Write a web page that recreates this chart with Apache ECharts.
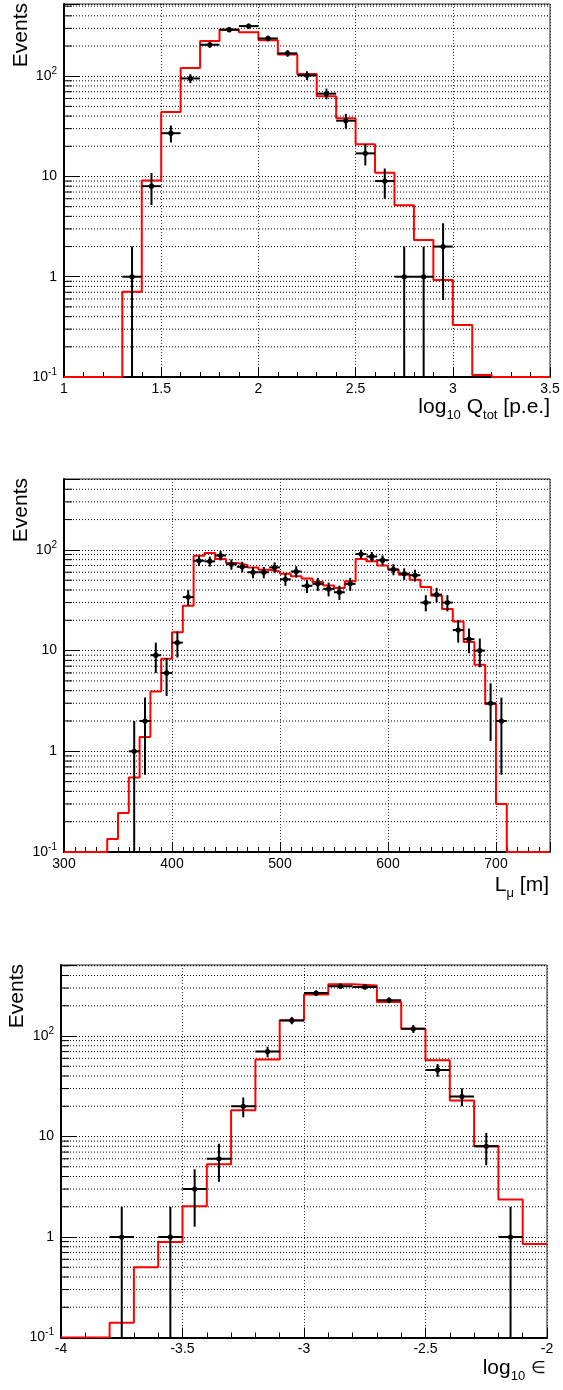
<!DOCTYPE html>
<html>
<head>
<meta charset="utf-8">
<script src="https://cdn.jsdelivr.net/npm/echarts@6/dist/echarts.min.js"></script>
<style>
  html, body { margin: 0; padding: 0; background: #fff; }
  #chart { width: 563px; height: 1390px; }
</style>
</head>
<body>
<div id="chart"></div>
<script>
// ---- panel 1: log10 Qtot ----
var qEdges = [1.0, 1.1, 1.2, 1.3, 1.4, 1.5, 1.6, 1.7, 1.8, 1.9, 2.0, 2.1, 2.2, 2.3, 2.4, 2.5, 2.6, 2.7, 2.8, 2.9, 3.0, 3.1, 3.2, 3.3, 3.4, 3.5];
var qMc = [0, 0, 0, 0.71, 9.1, 44, 121, 224, 291, 275, 229, 165, 105, 63, 38, 20.9, 10.9, 5.15, 2.32, 0.93, 0.33, 0.105, 0, 0, 0];
var qX = [1.35, 1.45, 1.55, 1.65, 1.75, 1.85, 1.95, 2.05, 2.15, 2.25, 2.35, 2.45, 2.55, 2.65, 2.75, 2.85, 2.95];
var qN = [1, 8, 27, 95, 206, 291, 316, 238, 169, 102, 67, 36, 17, 9, 1, 1, 2];

// ---- panel 2: L_mu ----
var lEdges = [300, 310, 320, 330, 340, 350, 360, 370, 380, 390, 400, 410, 420, 430, 440, 450, 460, 470, 480, 490,
  500, 510, 520, 530, 540, 550, 560, 570, 580, 590, 600, 610, 620, 630, 640, 650, 660, 670, 680, 690,
  700, 710, 720, 730, 740, 750];
var lMc = [0, 0, 0, 0, 0.135, 0.244, 0.55, 1.39, 3.93, 8.3, 15.2, 27.9, 87.5, 93, 81, 74, 71, 67, 63.5, 61,
  58, 54.6, 52, 48, 44.4, 41.9, 48.7, 81.3, 77, 70, 63.6, 56.7, 50.6, 42.8, 35, 25.9, 19.5, 12.2, 7.25, 2.95,
  0.30, 0, 0, 0, 0];
var lX = [365, 375, 385, 395, 405, 415, 425, 435, 445, 455, 465, 475, 485, 495, 505, 515, 525, 535, 545, 555,
  565, 575, 585, 595, 605, 615, 625, 635, 645, 655, 665, 675, 685, 695, 705];
var lN = [1, 2, 9, 6, 12, 34, 78, 77, 88, 72, 68, 60, 60, 67, 51, 61, 44, 46, 41, 38,
  46, 91, 86, 79, 64, 58, 56, 30, 36, 30, 16, 13, 10, 3, 2];

// ---- panel 3: log10 epsilon ----
var eEdges = [-4.0, -3.9, -3.8, -3.7, -3.6, -3.5, -3.4, -3.3, -3.2, -3.1, -3.0, -2.9, -2.8, -2.7, -2.6, -2.5, -2.4, -2.3, -2.2, -2.1, -2.0];
var eMc = [0, 0, 0.14, 0.50, 0.89, 2.02, 5.3, 18.3, 58.3, 143.6, 259, 327, 318, 218, 118, 57.4, 22.8, 8.0, 2.36, 0.85];
var eX = [-3.75, -3.55, -3.45, -3.35, -3.25, -3.15, -3.05, -2.95, -2.85, -2.75, -2.65, -2.55, -2.45, -2.35, -2.25, -2.15];
var eN = [1, 1, 3, 6, 20, 70, 143, 268, 313, 308, 227, 118, 46, 25, 8, 1];

// minor log ticks (2..9 of every decade)
var yMinorTicks = [0.2, 0.3, 0.4, 0.5, 0.6, 0.7, 0.8, 0.9, 2, 3, 4, 5, 6, 7, 8, 9,
  20, 30, 40, 50, 60, 70, 80, 90, 200, 300, 400, 500];

var FONT = '"Liberation Sans", Arial, Helvetica, sans-serif';
var YMIN = 0.1;

var panels = [
  { edges: qEdges, mc: qMc, px: qX, pn: qN, xmin: 1, xmax: 3.5, major: 0.5, minor: 5, ymax: 525,
    grid: { left: 64, top: 4, width: 486, height: 373 } },
  { edges: lEdges, mc: lMc, px: lX, pn: lN, xmin: 300, xmax: 750, major: 100, minor: 10, ymax: 506,
    grid: { left: 64, top: 479, width: 486, height: 373 } },
  { edges: eEdges, mc: eMc, px: eX, pn: eN, xmin: -4, xmax: -2, major: 0.5, minor: 5, ymax: 509,
    grid: { left: 61, top: 965, width: 486, height: 372.5 } }
];

function logLabel(v) {
  var l = Math.log10(v);
  var e = Math.round(l);
  if (Math.abs(l - e) > 1e-6) return '';
  if (e === 0) return '{n|1}';
  if (e === 1) return '{n|10}';
  return '{b|10}{p|' + e + '}';
}

var grids = [], xAxes = [], yAxes = [], series = [];

panels.forEach(function (p, i) {
  grids.push({
    left: p.grid.left, top: p.grid.top, width: p.grid.width, height: p.grid.height,
    show: true, borderColor: '#222', borderWidth: 1, backgroundColor: '#fff',
    outerBoundsMode: 'none', containLabel: false
  });

  var xi = xAxes.length;
  var twoAxes = (p.xmax - p.xmin) % p.major !== 0;
  xAxes.push({
    type: 'value', gridIndex: i, min: p.xmin, max: p.xmax, interval: p.major,
    axisLine: { show: true, onZero: false, lineStyle: { color: '#000', width: 2 } },
    axisTick: { show: true, inside: true, length: 10, lineStyle: { color: '#000', width: 1 } },
    minorTick: { show: !twoAxes, splitNumber: p.minor, length: 5, lineStyle: { color: '#000', width: 1 } },
    splitLine: { show: true, lineStyle: { color: '#333', width: 1, type: [1, 2] } },
    axisLabel: {
      show: true, color: '#000', fontSize: 14, fontFamily: FONT, margin: 5,
      formatter: function (v) {
        var k = (v - p.xmin) / p.major;
        return Math.abs(k - Math.round(k)) < 1e-6 ? String(+v.toFixed(2)) : '';
      }
    }
  });
  if (twoAxes) {
    // separate axis just for the 10 m minor ticks
    xAxes.push({
      type: 'value', gridIndex: i, min: p.xmin, max: p.xmax, interval: p.major / p.minor, position: 'bottom',
      axisLine: { show: false, onZero: false },
      axisTick: { show: true, inside: true, length: 5, lineStyle: { color: '#000', width: 1 } },
      splitLine: { show: false }, axisLabel: { show: false }
    });
  }

  yAxes.push({
    type: 'log', gridIndex: i, min: YMIN, max: p.ymax, logBase: 10,
    axisLine: { show: true, onZero: false, lineStyle: { color: '#000', width: 2 } },
    axisTick: { show: true, inside: true, length: 15, lineStyle: { color: '#000', width: 1 } },
    splitLine: { show: true, lineStyle: { color: '#000', width: 1, type: [1, 2] } },
    axisLabel: {
      show: true, color: '#000', margin: 7, formatter: logLabel,
      rich: {
        n: { fontSize: 14, fontFamily: FONT, color: '#000', lineHeight: 20 },
        b: { fontSize: 14, fontFamily: FONT, color: '#000', lineHeight: 20 },
        p: { fontSize: 10, fontFamily: FONT, color: '#000', lineHeight: 12, verticalAlign: 'top' }
      }
    }
  });

  // minor log grid lines + ticks
  series.push({
    type: 'custom', xAxisIndex: xi, yAxisIndex: i, silent: true, z: 1,
    data: yMinorTicks.filter(function (v) { return v < p.ymax; }).map(function (v) { return [p.xmin, v]; }),
    renderItem: function (params, api) {
      var v = api.value(1);
      var a = api.coord([p.xmin, v]), b = api.coord([p.xmax, v]);
      return { type: 'group', children: [
        { type: 'line', shape: { x1: a[0], y1: a[1], x2: b[0], y2: b[1] }, style: { stroke: '#000', lineWidth: 1, lineDash: [1, 2] } },
        { type: 'line', shape: { x1: a[0], y1: a[1], x2: a[0] + 8, y2: a[1] }, style: { stroke: '#000', lineWidth: 1 } }
      ] };
    }
  });

  // MC histogram as a step line over bin edges
  var step = [];
  for (var k = 0; k < p.mc.length; k++) step.push([p.edges[k], Math.max(p.mc[k], YMIN)]);
  step.push([p.edges[p.edges.length - 1], Math.max(p.mc[p.mc.length - 1], YMIN)]);
  series.push({
    type: 'line', xAxisIndex: xi, yAxisIndex: i, step: 'end', symbol: 'none', z: 3,
    data: step, lineStyle: { color: '#ff0000', width: 2 }, clip: true, animation: false
  });

  // data points with sqrt(N) errors, x error = half bin
  var half = (p.edges[1] - p.edges[0]) / 2;
  series.push({
    type: 'custom', xAxisIndex: xi, yAxisIndex: i, z: 5, clip: true,
    data: p.px.map(function (x, k) {
      var n = p.pn[k], s = Math.sqrt(n);
      return [x, n, Math.max(n - s, YMIN), n + s, x - half, x + half];
    }),
    renderItem: function (params, api) {
      var c = api.coord([api.value(0), api.value(1)]);
      var lo = api.coord([api.value(0), api.value(2)]);
      var hi = api.coord([api.value(0), api.value(3)]);
      var l = api.coord([api.value(4), api.value(1)]);
      var r = api.coord([api.value(5), api.value(1)]);
      return { type: 'group', children: [
        { type: 'line', shape: { x1: c[0], y1: lo[1], x2: c[0], y2: hi[1] }, style: { stroke: '#000', lineWidth: 2 } },
        { type: 'line', shape: { x1: l[0], y1: c[1], x2: r[0], y2: c[1] }, style: { stroke: '#000', lineWidth: 2 } },
        { type: 'circle', shape: { cx: c[0], cy: c[1], r: 2.6 }, style: { fill: '#000' } }
      ] };
    }
  });
});

var titleRich = {
  t: { fontSize: 21, fontFamily: FONT, color: '#000', lineHeight: 30 },
  e: { fontSize: 17, fontFamily: FONT, color: '#000', lineHeight: 30 },
  s: { fontSize: 13, fontFamily: FONT, color: '#000', lineHeight: 14, verticalAlign: 'bottom' }
};
function yTitle(x, y) {
  return { type: 'text', x: x, y: y, rotation: Math.PI / 2,
    style: { text: 'Events', fontSize: 21, fontFamily: FONT, fill: '#000', align: 'right', verticalAlign: 'middle' } };
}
function xTitle(x, y, txt) {
  return { type: 'text', x: x, y: y,
    style: { text: txt, rich: titleRich, align: 'right', verticalAlign: 'middle', fill: '#000' } };
}

var myChart = echarts.init(document.getElementById('chart'));
myChart.setOption({
  animation: false,
  backgroundColor: '#fff',
  grid: grids,
  xAxis: xAxes,
  yAxis: yAxes,
  series: series,
  graphic: [
    yTitle(21, 3),
    yTitle(21, 478),
    yTitle(17, 964),
    xTitle(550, 407, '{t|log}{s|10}{t| Q}{s|tot}{t| [p.e.]}'),
    xTitle(549, 885, '{t|L}{s|μ}{t| [m]}'),
    xTitle(546, 1368, '{t|log}{s|10}{t| }{e|∈}')
  ]
});
</script>
</body>
</html>
